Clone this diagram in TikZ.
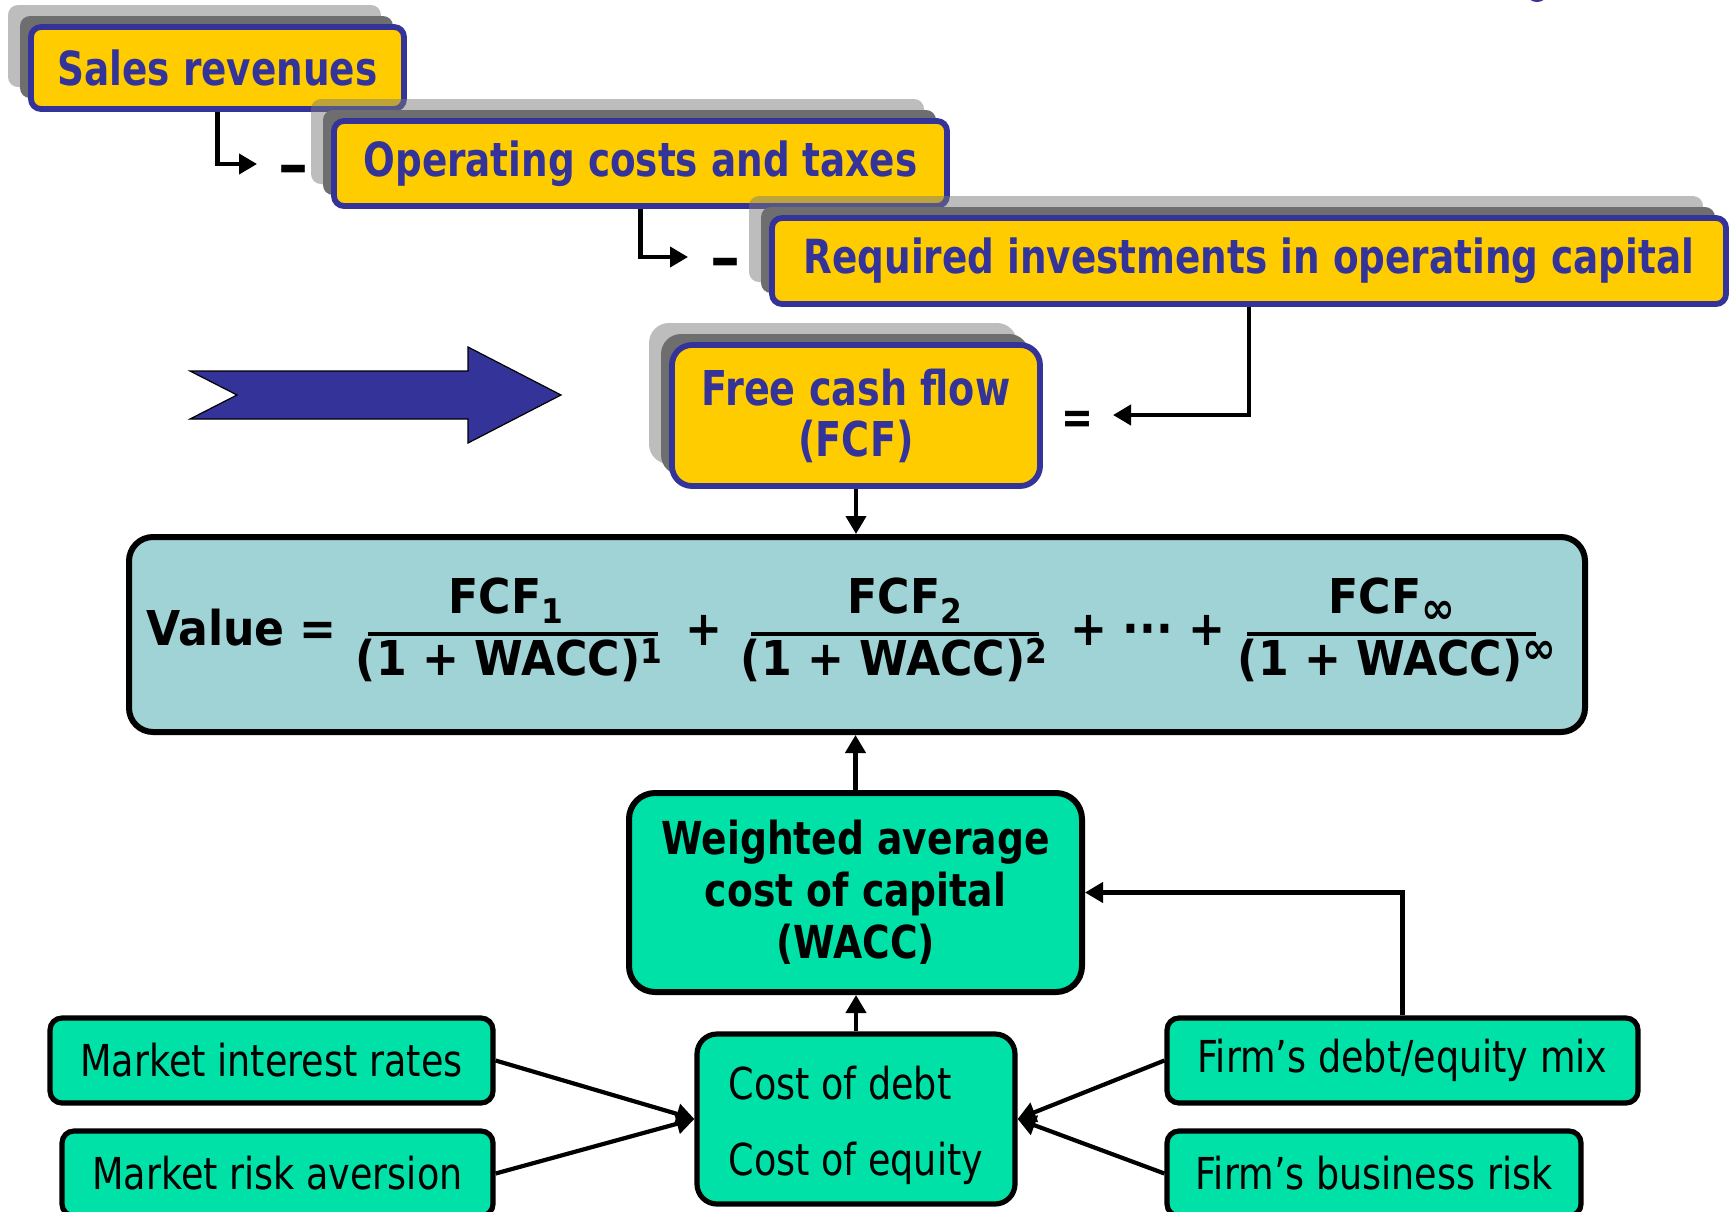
\documentclass[tikz,border=0pt]{standalone}
\usepackage{fontspec}
\setmainfont{DejaVu Sans}[FakeStretch=0.83]
\newfontfamily\ffam{DejaVu Sans}[FakeStretch=0.92]
\newfontfamily\tfam{DejaVu Sans}[FakeStretch=0.795]
\newfontfamily\dfam{DejaVu Sans}
\usetikzlibrary{arrows.meta,calc}
\definecolor{myblue}{RGB}{51,51,153}
\definecolor{myyellow}{RGB}{255,204,0}
\definecolor{valfill}{RGB}{159,211,214}
\definecolor{grfill}{RGB}{0,225,168}
\definecolor{shlight}{RGB}{122,122,122}
\definecolor{shdark}{RGB}{110,110,110}
\newcommand\fsub[1]{\raisebox{-5pt}{\fontsize{17pt}{17pt}\selectfont #1}}
\newcommand\fsup[1]{\raisebox{6pt}{\fontsize{17pt}{17pt}\selectfont #1}}
\newcommand\finf{\fontsize{22pt}{22pt}\selectfont ∞}
\begin{document}
\begin{tikzpicture}[x=0.5pt,y=-0.5pt,
  ybox/.style={draw=myblue, line width=2.9pt, fill=myyellow, rounded corners=5pt,
    inner sep=0pt, text=myblue, font=\tfam\bfseries\fontsize{23.5pt}{27pt}\selectfont,
    preaction={draw=none, fill=shlight, fill opacity=0.49, transform canvas={shift={(-11.5pt,11pt)}}},
    preaction={draw=none, fill=shdark, transform canvas={shift={(-5.5pt,5.5pt)}}}},
  gbox/.style={draw=black, line width=2.6pt, fill=grfill, rounded corners=6pt,
    inner sep=0pt, font=\fontsize{22pt}{26pt}\selectfont},
  ftxt/.style={inner sep=0pt, font=\ffam\bfseries\fontsize{24pt}{28pt}\selectfont},
  optxt/.style={inner sep=0pt, anchor=base, font=\dfam\bfseries\fontsize{30pt}{34pt}\selectfont},
  conn/.style={line width=2.1pt, -{Triangle[length=9pt,width=10pt]}},
  fline/.style={line width=2.2pt}
]
\useasboundingbox (0,0) rectangle (1730,1211);
\fill[white] (0,0) rectangle (1730,1211);
% fragment at top edge
\fill[myblue] (1537,-6) ellipse (10 and 8);

% top boxes
\node[ybox, minimum width=186.5pt, minimum height=41pt] (sales) at (217.5,68) {Sales revenues};
\node[ybox, minimum width=306.5pt, minimum height=42.5pt] (ops) at (640.5,163.5) {Operating costs and taxes};
\node[ybox, rounded corners=5pt, minimum width=477pt, minimum height=43pt] (req) at (1249,261) {Required investments in operating capital};
\node[ybox, rounded corners=10pt, align=center, minimum width=184pt, minimum height=70.5pt,
  font=\tfam\bfseries\fontsize{24pt}{25.5pt}\selectfont] (fcf) at (856,415.5) {Free cash flow\\(FCF)};

% operators
\node[optxt] (m1) at (293,185) {–};
\node[optxt] (m2) at (725,278) {–};
\node[optxt, font=\bfseries\fontsize{23pt}{27pt}\selectfont] (eq) at (1077,433) {=};
\coordinate (a1) at (257,164);
\coordinate (a2) at (688,257);
\coordinate (a3) at (1113,415);
\draw[conn] (sales.south) |- (a1);
\draw[conn] (ops.south) |- (a2);
\draw[conn] (req.south) |- (a3);

% big arrow
\draw[fill=myblue, line width=0.6pt, line join=miter] (190,371) -- (237,395) -- (190,419) -- (468,419)
  -- (468,443) -- (561,395) -- (468,347) -- (468,371) -- cycle;

% value box
\node[draw=black, line width=3pt, fill=valfill, rounded corners=12pt, inner sep=0pt,
  minimum width=728pt, minimum height=97.5pt] (val) at (857,634.5) {};
\draw[conn] (fcf.south) -- (fcf.south |- val.north);

\node[ftxt, anchor=base west] (vlab) at (146,645) {Value =};
\node[ftxt, anchor=base] (n1) at (506,613) {FCF\fsub{1}};
\node[ftxt, anchor=base] (d1) at (509,675) {(1 + WACC)\fsup{1}};
\draw[fline] (368,634) -- (658,634);
\node[ftxt, anchor=base] (p1) at (704,645) {+};
\node[ftxt, anchor=base] (n2) at (905,613) {FCF\fsub{2}};
\node[ftxt, anchor=base] (d2) at (894,675) {(1 + WACC)\fsup{2}};
\draw[fline] (751,634) -- (1039,634);
\node[ftxt, anchor=base] (p2) at (1148,645) {+ ··· +};
\node[ftxt, anchor=base] (n3) at (1392,613) {FCF\fsub{\finf}};
\node[ftxt, anchor=base] (d3) at (1397,675) {(1 + WACC)\fsup{\finf}};
\draw[fline] (1247,634) -- (1536,634);

% WACC
\node[gbox, line width=3pt, rounded corners=13pt, align=center, minimum width=226.5pt, minimum height=99.5pt,
  font=\bfseries\fontsize{22.7pt}{26pt}\selectfont] (wacc) at (855.5,892.5) {Weighted average\\cost of capital\\(WACC)};
\draw[conn] (wacc.north) -- (wacc.north |- val.south);

% cost box
\node[gbox, rounded corners=10pt, minimum width=159pt, minimum height=85pt] (cost) at (856,1119) {};
\node[inner sep=0pt, align=left, font=\fontsize{22pt}{38pt}\selectfont] (costtxt) at (856,1125) {Cost of debt\\Cost of equity};
\draw[conn] (cost.north) -- (cost.north |- wacc.south);

% lower boxes
\node[gbox, minimum width=221.5pt, minimum height=42.5pt] (mir) at (271.5,1060.5) {Market interest rates};
\node[gbox, minimum width=215.5pt, minimum height=42.5pt] (mra) at (277.5,1173.5) {Market risk aversion};
\node[gbox, minimum width=235.5pt, minimum height=42.5pt] (fde) at (1402.5,1060.5) {Firm’s debt/equity mix};
\node[gbox, minimum width=207pt, minimum height=42.5pt] (fbr) at (1374,1173.5) {Firm’s business risk};

\draw[conn] (mir.east) -- (cost.west);
\draw[conn] (mra.east) -- (cost.west);
\draw[conn] (fde.west) -- (cost.east);
\draw[conn] (fbr.west) -- (cost.east);
\draw[conn] (fde.north) |- (wacc.east);
\end{tikzpicture}
\end{document}
